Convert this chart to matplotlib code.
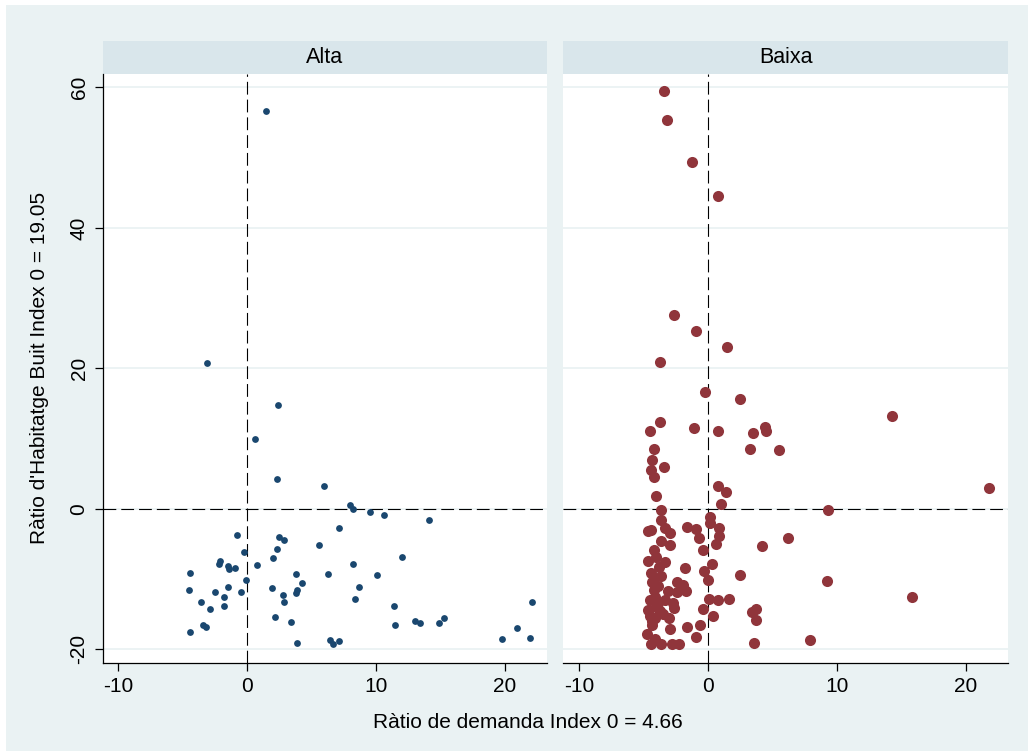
import matplotlib
matplotlib.use("Agg")
import matplotlib.pyplot as plt
from matplotlib.patches import Rectangle

plt.rcParams['font.family'] = ['Liberation Sans', 'DejaVu Sans']
plt.rcParams['axes.unicode_minus'] = False

# dades llegides del gràfic
panels = ["Alta", "Baixa"]

alta_x = [-3.1, 1.5, 2.4, 0.6, 2.3, 6.0, 8.0, 8.2, 9.5, 10.6, 14.1, 7.1, -0.8, 2.5,
          2.9, 5.6, 2.3, -0.2, 12.0, 2.0, -2.1, -2.2, 0.8, -1.5, -1.4, -0.9, 8.2,
          -4.4, 3.8, 6.3, 10.1, -0.1, 4.3, -1.5, 8.7, -4.5, -2.5, -0.5, 1.9, 3.9,
          3.8, 2.8, -1.8, 2.9, 8.4, 22.1, -3.6, -2.9, -1.8, 11.4, 2.2, 3.4, 13.0,
          13.4, 14.9, 15.3, 11.5, -3.4, -3.2, -4.4, 20.9, 19.8, 21.9, 3.9, 6.4,
          6.7, 7.1]
alta_y = [20.8, 56.7, 14.8, 10.0, 4.3, 3.2, 0.6, 0.0, -0.5, -0.9, -1.6, -2.7, -3.7,
          -4.0, -4.4, -5.2, -5.7, -6.1, -6.8, -7.0, -7.4, -7.8, -8.0, -8.2, -8.5,
          -8.4, -7.9, -9.2, -9.3, -9.3, -9.4, -10.2, -10.5, -11.1, -11.1, -11.6,
          -11.9, -11.9, -11.3, -11.6, -12.0, -12.3, -12.6, -13.2, -12.9, -13.2,
          -13.3, -14.3, -13.8, -13.8, -15.4, -16.1, -16.0, -16.2, -16.3, -15.6,
          -16.6, -16.6, -16.8, -17.5, -17.0, -18.5, -18.4, -19.1, -18.7, -19.2,
          -18.8]

baixa_x = [-3.4, -3.2, -1.2, 0.8, -2.6, -0.9, 1.5, -3.7, -0.2, 2.5, 14.3, 21.8, 9.3,
           9.2, 15.8, 6.2, 7.9,
           -3.7, -4.5, -1.1, 0.8, 3.5, 4.4, 4.5, 3.3, 5.5, -4.2, -4.3, -3.4, -4.4,
           -4.2, 0.8, 1.4, -4.0, 1.0, -3.6, -3.6, 0.2, 0.2, -4.4, -4.6, -3.3, -1.6,
           -0.9, 0.9, -2.9, -0.7, 0.9, -3.6, -2.9, 0.6, 4.2, -4.2, -0.4, -4.6, -3.8,
           -1.8, 0.3, -0.3, -4.4, -3.6, 2.5, 0.0, -4.3, -2.4, -1.9, -1.7, -3.1, -4.2,
           -2.4, 0.1, 0.8, 1.6, -4.5, -3.9, -2.7, -2.6, -4.6, -3.7, -0.4, 3.4, 3.7,
           -4.5, -4.1, -3.0, 0.4, 3.7, -4.3, -2.9, -1.6, -0.6, -4.7, -0.9, -4.4,
           -3.6, -2.8, -2.2, 3.6,
           -4.1, -3.9, -4.0, -4.3, -3.5, -4.2, -3.3, -4.0, -3.3, -4.1]
baixa_y = [59.5, 55.3, 49.4, 44.6, 27.6, 25.3, 23.1, 20.9, 16.7, 15.7, 13.2, 3.0,
           -0.2, -10.3, -12.6, -4.2, -18.7,
           12.4, 11.1, 11.5, 11.1, 10.8, 11.6, 11.1, 8.5, 8.4, 8.5, 7.0, 5.9, 5.5,
           4.6, 3.3, 2.4, 1.8, 0.7, -0.2, -1.6, -1.1, -2.0, -3.0, -3.2, -2.8, -2.6,
           -2.9, -2.8, -3.5, -4.1, -3.9, -4.6, -5.1, -5.0, -5.3, -5.8, -5.8, -7.4,
           -8.3, -8.4, -7.8, -8.8, -9.1, -9.6, -9.4, -10.2, -10.4, -10.4, -10.9,
           -11.7, -11.7, -11.6, -11.8, -12.9, -13.0, -12.8, -13.0, -13.4, -13.4,
           -14.1, -14.4, -14.5, -14.3, -14.7, -14.3, -15.3, -15.6, -15.6, -15.3,
           -15.8, -16.6, -17.1, -16.8, -16.6, -17.8, -18.2, -19.2, -19.2, -19.2,
           -19.2, -19.1,
           -12.5, -11.0, -14.0, -16.0, -15.0, -9.8, -7.6, -6.8, -13.0, -18.5]

y_ticks = [-20, 0, 20, 40, 60]
x_ticks = [-10, 0, 10, 20]
x_label = "Ràtio de demanda Index 0 = 4.66"
y_label = "Ràtio d'Habitatge Buit Index 0 = 19.05"

BG = "#EAF2F3"
STRIP = "#D9E6EB"
NAVY = "#1A476F"
MAROON = "#90353B"

W, H = 1034, 756
fig = plt.figure(figsize=(W / 100, H / 100), dpi=100)
fig.patch.set_facecolor("white")
fig.patches.append(Rectangle((6 / W, 5 / H), (W - 12) / W, (H - 10) / H,
                             transform=fig.transFigure, facecolor=BG,
                             edgecolor="none", zorder=-10))

def px_box(x0, y0, x1, y1):
    return [x0 / W, 1 - y1 / H, (x1 - x0) / W, (y1 - y0) / H]

boxes = [(102.5, 74, 547, 663), (563.3, 74, 1008, 663)]
data = [(alta_x, alta_y, NAVY, 24), (baixa_x, baixa_y, MAROON, 64)]

for i, (name, box, (xs, ys, col, sz)) in enumerate(zip(panels, boxes, data)):
    ax = fig.add_axes(px_box(*box))
    ax.set_facecolor("white")
    ax.set_xlim(-11.2, 23.25)
    ax.set_ylim(-21.95, 61.9)
    ax.set_yticks(y_ticks)
    ax.set_xticks(x_ticks)
    for yt in y_ticks:
        ax.axhline(yt, color=BG, lw=1.3, zorder=1)
    ax.axhline(0, color="black", lw=0.8, dashes=(11.5, 4.5), zorder=2)
    ax.axvline(0, color="black", lw=0.8, dashes=(11.5, 4.5), zorder=2)
    ax.scatter(xs, ys, s=sz, color=col, linewidths=0, zorder=3)

    for s in ["top", "right"]:
        ax.spines[s].set_visible(False)
    ax.spines["bottom"].set_linewidth(0.9)
    ax.spines["left"].set_linewidth(0.9)
    ax.tick_params(axis="x", length=6, width=0.9, labelsize=15, pad=4)
    ax.tick_params(axis="y", length=6, width=0.9, labelsize=15, pad=4)
    for lab in ax.get_yticklabels():
        lab.set_rotation(90)
        lab.set_va("center")
    if i == 1:
        ax.spines["left"].set_visible(False)
        ax.tick_params(axis="y", left=False, labelleft=False)

    # franja del títol del panell
    sx0, sy0, sx1, sy1 = box[0], 41, box[2], 74
    fig.patches.append(Rectangle((sx0 / W, 1 - sy1 / H), (sx1 - sx0) / W,
                                 (sy1 - sy0) / H, transform=fig.transFigure,
                                 facecolor=STRIP, edgecolor="none", zorder=-5))
    fig.text((sx0 + sx1) / 2 / W, 1 - 57.5 / H, name, ha="center", va="center",
             fontsize=15.5)

fig.text(528 / W, 1 - 722 / H, x_label, ha="center", va="center", fontsize=15)
fig.text(40 / W, 1 - 368 / H, y_label, ha="center", va="center", fontsize=15,
         rotation=90)

fig.savefig("out.png", dpi=100, facecolor=fig.get_facecolor())
